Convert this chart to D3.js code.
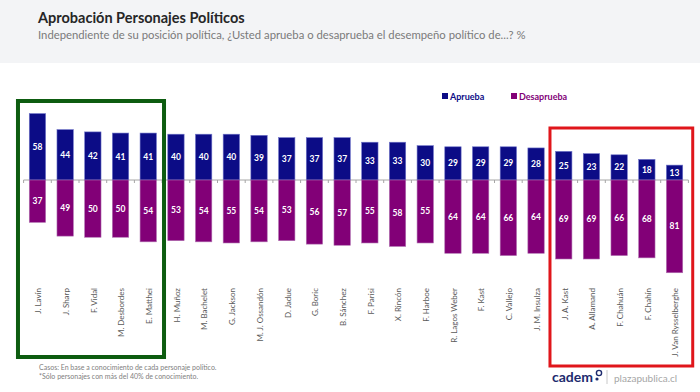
<!DOCTYPE html>
<html>
<head>
<meta charset="utf-8">
<script src="https://cdn.jsdelivr.net/npm/d3@7"></script>
<style>
  body { margin: 0; background: #fff; }
  svg { display: block; font-family: Lato, "Open Sans", sans-serif; }
</style>
</head>
<body>
<div class="canvas"></div>
<script>
// data
var names = ["J. Lavín", "J. Sharp", "F. Vidal", "M. Desbordes", "E. Matthei", "H. Muñoz", "M. Bachelet",
  "G. Jackson", "M. J. Ossandón", "D. Jadue", "G. Boric", "B. Sánchez", "F. Parisi", "X. Rincón", "F. Harboe",
  "R. Lagos Weber", "F. Kast", "C. Vallejo", "J. M. Insulza", "J. A. Kast", "A. Allamand", "F. Chahuán",
  "F. Chahín", "J. Van Rysselberghe"];
var aprueba = [58, 44, 42, 41, 41, 40, 40, 40, 39, 37, 37, 37, 33, 33, 30, 29, 29, 29, 28, 25, 23, 22, 18, 13];
var desaprueba = [37, 49, 50, 50, 54, 53, 54, 55, 54, 53, 56, 57, 55, 58, 55, 64, 64, 66, 64, 69, 69, 66, 68, 81];
var seriesNames = ["Aprueba", "Desaprueba"];

var W = 700, H = 392;
var blue = "#0c0c86", purple = "#820077";

var svg = d3.select(".canvas").append("svg").attr("width", W).attr("height", H);

// header band
svg.append("rect").attr("x", 0).attr("y", 0).attr("width", W).attr("height", 63).attr("fill", "#f3f4f6");

svg.append("text")
    .attr("x", 38).attr("y", 23)
    .text("Aprobación Personajes Políticos")
    .attr("font-size", "14.5px")
    .attr("font-weight", "bold")
    .attr("fill", "#262626");

svg.append("text")
    .attr("x", 38).attr("y", 39)
    .text("Independiente de su posición política, ¿Usted aprueba o desaprueba el desempeño político de...? %")
    .attr("font-size", "11.3px")
    .attr("fill", "#7a7a7a");

// scales
var x = d3.scaleBand().domain(names).range([23.6, 688.4]).paddingInner(0.41).paddingOuter(0.205);
var y = d3.scaleLinear().domain([-100, 100]).range([180 + 114.5, 180 - 114.5]);

var chart = svg.append("g");

// axis line + ticks at category boundaries
chart.append("line")
    .attr("x1", x.range()[0]).attr("x2", x.range()[1])
    .attr("y1", y(0)).attr("y2", y(0))
    .attr("stroke", "#a6a6a6").attr("stroke-width", 1);

chart.selectAll(".tick")
    .data(d3.range(names.length + 1))
    .enter().append("line")
    .attr("x1", function (i) { return x.range()[0] + i * x.step(); })
    .attr("x2", function (i) { return x.range()[0] + i * x.step(); })
    .attr("y1", y(0)).attr("y2", y(0) + 3)
    .attr("stroke", "#a6a6a6");

// aprueba bars
chart.selectAll(".ap")
    .data(aprueba)
    .enter().append("rect")
    .attr("x", function (d, i) { return x(names[i]); })
    .attr("y", function (d) { return y(d); })
    .attr("width", x.bandwidth())
    .attr("height", function (d) { return y(0) - y(d); })
    .attr("fill", blue)
    .attr("stroke", "#6f74c8").attr("stroke-width", 0.6);

// desaprueba bars
chart.selectAll(".de")
    .data(desaprueba)
    .enter().append("rect")
    .attr("x", function (d, i) { return x(names[i]); })
    .attr("y", y(0))
    .attr("width", x.bandwidth())
    .attr("height", function (d) { return y(-d) - y(0); })
    .attr("fill", purple)
    .attr("stroke", "#b070b0").attr("stroke-width", 0.6);

// value labels
chart.selectAll(".apl")
    .data(aprueba)
    .enter().append("text")
    .attr("x", function (d, i) { return x(names[i]) + x.bandwidth() / 2; })
    .attr("y", function (d) { return (y(d) + y(0)) / 2; })
    .attr("dy", "0.35em")
    .attr("text-anchor", "middle")
    .attr("font-size", "8.5px").attr("font-weight", "bold")
    .attr("fill", "#fff")
    .text(function (d) { return d; });

chart.selectAll(".del")
    .data(desaprueba)
    .enter().append("text")
    .attr("x", function (d, i) { return x(names[i]) + x.bandwidth() / 2; })
    .attr("y", function (d) { return (y(-d) + y(0)) / 2; })
    .attr("dy", "0.35em")
    .attr("text-anchor", "middle")
    .attr("font-size", "8.5px").attr("font-weight", "bold")
    .attr("fill", "#fff")
    .text(function (d) { return d; });

// category labels, rotated
chart.selectAll(".cat")
    .data(names)
    .enter().append("text")
    .attr("transform", function (d) {
        return "translate(" + (x(d) + x.bandwidth() / 2 + 1) + ",288) rotate(-90)";
    })
    .attr("dy", "0.35em")
    .attr("text-anchor", "end")
    .attr("font-size", "8px")
    .attr("fill", "#595959")
    .text(function (d) { return d; });

// legend
var legend = svg.append("g");
[[442, blue], [511, purple]].forEach(function (l, i) {
    legend.append("rect").attr("x", l[0]).attr("y", 93).attr("width", 6).attr("height", 6).attr("fill", l[1]);
    legend.append("text")
        .attr("x", l[0] + 8).attr("y", 99.5)
        .text(seriesNames[i])
        .attr("font-size", "9px").attr("font-weight", "bold")
        .attr("fill", l[1]);
});

// highlight boxes
svg.append("rect")
    .attr("x", x(names[0]) - 11.3).attr("y", 101)
    .attr("width", x(names[4]) + x.bandwidth() + 7.6 - (x(names[0]) - 11.3))
    .attr("height", 256)
    .attr("fill", "none").attr("stroke", "#0d5c10").attr("stroke-width", 4);

svg.append("rect")
    .attr("x", x(names[19]) - 5.6).attr("y", 128)
    .attr("width", x(names[23]) + x.bandwidth() + 10 - (x(names[19]) - 5.6))
    .attr("height", 238)
    .attr("fill", "none").attr("stroke", "#e0161b").attr("stroke-width", 3);

// footnote
svg.append("text").attr("x", 39).attr("y", 370)
    .text("Casos: En base a conocimiento de cada personaje político.")
    .attr("font-size", "7px").attr("fill", "#808080");
svg.append("text").attr("x", 39).attr("y", 379)
    .text("*Sólo personajes con más del 40% de conocimiento.")
    .attr("font-size", "7px").attr("fill", "#808080");

// logos
svg.append("text").attr("x", 552).attr("y", 382)
    .text("cadem")
    .attr("font-size", "14px").attr("font-weight", "bold")
    .attr("fill", "#1d2b6e");
svg.append("circle").attr("cx", 597).attr("cy", 379).attr("r", 1.6)
    .attr("fill", "#1d2b6e");
svg.append("circle").attr("cx", 599).attr("cy", 373).attr("r", 2.6)
    .attr("fill", "none").attr("stroke", "#1d2b6e").attr("stroke-width", 1.4);
svg.append("line").attr("x1", 607).attr("x2", 607).attr("y1", 370).attr("y2", 384)
    .attr("stroke", "#c8c8c8");
svg.append("text").attr("x", 614).attr("y", 382)
    .text("plazapublica.cl")
    .attr("font-size", "10px")
    .attr("fill", "#a6a6a6");
</script>
</body>
</html>
